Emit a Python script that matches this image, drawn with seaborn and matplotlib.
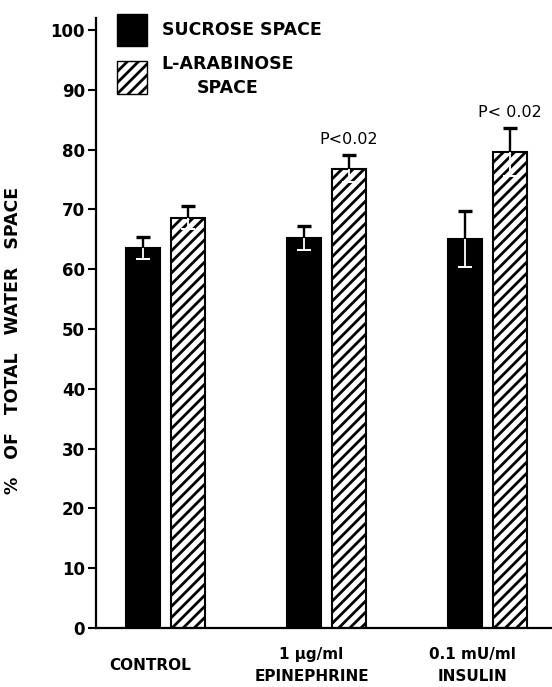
import numpy as np
import pandas as pd
import seaborn as sns
import matplotlib.pyplot as plt
import matplotlib.transforms as mtransforms
from matplotlib.patches import Patch

# datos
grupos = ['CONTROL', '1 µg/ml\nEPINEPHRINE', '0.1 mU/ml\nINSULIN']
espacios = ['SUCROSE SPACE', 'L-ARABINOSE\nSPACE']
sacarosa = [63.6, 65.2, 65.0]
sacarosa_err = [1.85, 2.0, 4.7]
arabinosa = [68.6, 76.8, 79.6]
arabinosa_err = [1.9, 2.2, 4.0]
p_textos = ['', 'P<0.02', 'P< 0.02']
yticks = [0, 10, 20, 30, 40, 50, 60, 70, 80, 90, 100]

df = pd.DataFrame({
    'grupo': grupos * 2,
    'espacio': [espacios[0]] * 3 + [espacios[1]] * 3,
    'valor': sacarosa + arabinosa,
})

sns.set_style('white')
plt.rcParams['font.family'] = ['DejaVu Sans']
plt.rcParams['hatch.linewidth'] = 2.0
for clave in ['text.color', 'axes.labelcolor', 'xtick.color', 'ytick.color']:
    plt.rcParams[clave] = 'black'

fig = plt.figure(figsize=(5.52, 6.87), dpi=100)
ax = fig.add_axes([0.1739, 0.0859, 0.8261, 0.888])

sns.barplot(data=df, x='grupo', y='valor', hue='espacio', hue_order=espacios,
            order=grupos, palette=['black', 'white'], width=0.56, gap=0.246,
            edgecolor='black', linewidth=1.5, errorbar=None, legend=False, ax=ax)

for barra in ax.containers[1]:
    barra.set_hatch('///')

# barras de error: parte de arriba negra, parte de abajo blanca (dentro de la barra)
errores = [sacarosa_err, arabinosa_err]
for k, cont in enumerate(ax.containers):
    for j, barra in enumerate(cont):
        xc = barra.get_x() + barra.get_width() / 2
        h = barra.get_height()
        e = errores[k][j]
        ax.vlines(xc, h, h + e, color='black', lw=1.7, zorder=5)
        ax.plot(xc, h + e, marker='_', ms=9.5, mew=2.4, color='black', zorder=5)
        ax.vlines(xc, h - e, h, color='white', lw=1.3, zorder=5)
        ax.plot(xc, h - e, marker='_', ms=9.5, mew=1.4, color='white', zorder=5)
        if k == 1 and p_textos[j]:
            ax.text(xc, h + e + 2.6, p_textos[j], ha='center', va='center',
                    fontsize=11.5)

ax.set_xlim(-0.432, 2.40)
ax.set_ylim(0, 102)
ax.set_yticks(yticks)
ax.set_yticklabels([str(t) for t in yticks], fontsize=12, fontweight='bold')
ax.tick_params(axis='y', direction='out', length=6, width=1.5, pad=2, left=True)
ax.tick_params(axis='x', length=0, pad=27)
for lab in ax.get_xticklabels():
    lab.set_fontsize(11)
    lab.set_fontweight('bold')
    lab.set_verticalalignment('center')
    lab.set_multialignment('center')
    lab.set_linespacing(1.55)
    lab.set_transform(lab.get_transform() +
                      mtransforms.ScaledTranslation(-15 / 100, 0, fig.dpi_scale_trans))

ax.set_xlabel('')
ax.set_ylabel('%   OF   TOTAL   WATER   SPACE', fontsize=12.5, fontweight='bold')
ax.yaxis.set_label_coords(-0.162, 0.472)

sns.despine(ax=ax)
for lado in ['left', 'bottom']:
    ax.spines[lado].set_linewidth(1.6)
    ax.spines[lado].set_color('black')

manijas = [Patch(facecolor='black', edgecolor='black'),
           Patch(facecolor='white', edgecolor='black', hatch='///')]
leg = ax.legend(manijas, espacios, loc='upper left', bbox_to_anchor=(0.046, 1.007),
                frameon=False, prop={'size': 12.5, 'weight': 'bold'},
                handlelength=1.72, handleheight=2.5, handletextpad=0.85,
                labelspacing=0.5, borderpad=0, borderaxespad=0)
for t in leg.get_texts():
    t.set_multialignment('center')
    t.set_linespacing(1.45)

fig.savefig('out.png', dpi=100)
